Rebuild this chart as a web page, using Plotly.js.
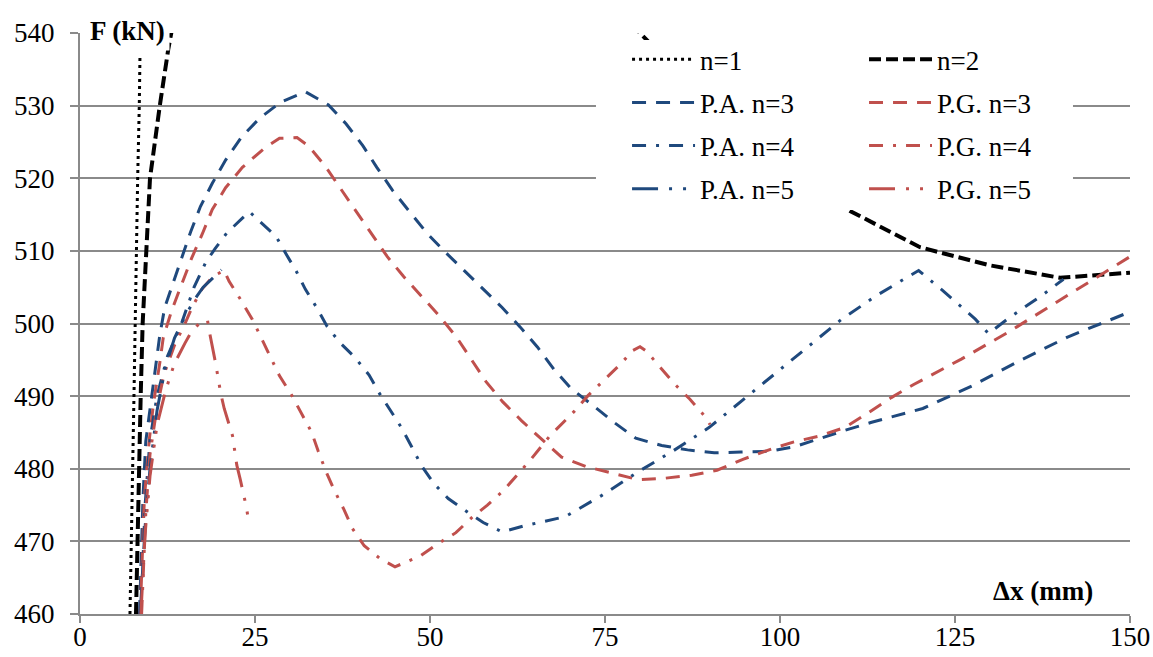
<!DOCTYPE html>
<html>
<head>
<meta charset="utf-8">
<script src="https://cdn.plot.ly/plotly-3.0.1.min.js"></script>
<style>html,body{margin:0;padding:0;background:#fff;}#chart{width:1153px;height:657px;}</style>
</head>
<body>
<div id="chart"></div>
<script>
// ---- data ----
const xTicks = [0, 25, 50, 75, 100, 125, 150];
const yTicks = [460, 470, 480, 490, 500, 510, 520, 530, 540];

const n1_x = [7.14, 7.38, 7.52, 7.71, 7.86, 8.1, 8.24, 8.47, 8.57];
const n1_y = [460, 470, 480, 490, 500, 510, 520, 530, 537];

const n2_x = [8.0, 8.19, 8.43, 8.67, 8.95, 9.5, 10.0, 11.4, 12.6, 14, 17, 25, 40, 55, 70, 80, 90, 100, 110, 120, 130, 140, 150];
const n2_y = [460, 470, 480, 490, 500, 510, 520, 530, 537.7, 545, 553, 564, 572, 566, 552, 540, 530, 521.5, 515.5, 510.5, 508, 506.3, 507];

const pa3_x = [8.5, 9.0, 9.4, 9.9, 10.4, 11.4, 12.1, 13.3, 14.5, 15.8, 17.2, 18.9, 20.8, 23.1, 25.7, 28.7, 32.2, 35.5, 38, 40.4, 42.4, 44.6, 47, 49.6, 52.1, 56, 60.3, 62.9, 65.4, 67.7, 70.2, 73.3, 76.4, 79.4, 83.1, 86.8, 90.6, 94.4, 98.3, 102, 105.7, 109.3, 113.1, 116.7, 120.4, 127.4, 134.1, 141, 150];
const pa3_y = [460, 476, 483.8, 487.6, 491.2, 498.4, 502.2, 505.6, 509.2, 512.6, 516.1, 519.3, 522.5, 525.7, 528.3, 530.5, 531.9, 530.1, 527.5, 524.5, 521.5, 518.4, 515.5, 512.4, 509.9, 506.2, 502.2, 499.5, 496.7, 493.7, 491, 488.7, 486.3, 484.2, 483.2, 482.6, 482.2, 482.3, 482.4, 483, 484.2, 485.3, 486.4, 487.3, 488.3, 491.4, 494.8, 498.1, 501.6];

const pg3_x = [8.6, 9.2, 9.9, 10.5, 11.4, 11.9, 13.1, 14.5, 15.95, 17.5, 18.9, 20.8, 23.2, 26.3, 28.5, 31, 32.7, 35, 37.3, 39.4, 41.7, 43.9, 46.2, 48.8, 51.2, 53.8, 56, 58, 60.4, 63.1, 65.9, 68.8, 72.3, 75.9, 79.7, 83.6, 87.4, 91, 94.7, 99, 102, 105.6, 109.3, 112.6, 115.9, 119.1, 125.9, 132.6, 150];
const pg3_y = [460, 476, 484, 489, 494.6, 498.1, 501.8, 505.4, 509, 512.4, 515.7, 518.7, 521.5, 524.1, 525.5, 525.6, 524.4, 521.7, 518.5, 515.4, 512.3, 509.2, 506.5, 503.8, 501.2, 498.1, 495, 492, 489.2, 486.6, 484.1, 481.6, 480.3, 479.4, 478.5, 478.7, 479.1, 479.8, 481.3, 482.8, 483.7, 484.5, 485.7, 487.7, 489.8, 491.6, 495.1, 498.8, 509.2];

const pa4_x = [8.7, 9.3, 10, 11, 12.5, 14.5, 16.3, 18, 19.3, 21, 23.2, 24.2, 25.5, 28, 29.3, 30.9, 32.2, 33.8, 35.3, 37.1, 39.3, 41.3, 42.7, 44.4, 45.9, 47.4, 48.8, 50.6, 52.6, 55.4, 57.6, 60.3, 63.3, 69.3, 74.5, 79.6, 84.8, 89.9, 94.5, 99.3, 103.8, 108.7, 113.7, 119.8, 123.3, 127.9, 129.8, 132.6, 137.6, 140.5];
const pa4_y = [460, 475, 484, 490, 495.5, 500, 505, 508.5, 510.3, 512.5, 514.5, 515.4, 514.2, 512, 509.8, 507.2, 504.7, 502.2, 499.6, 497.4, 495.3, 492.9, 490.5, 488, 485.7, 483, 480.4, 477.9, 475.9, 474, 472.6, 471.3, 472.1, 473.4, 476.3, 479.5, 482.5, 485.7, 489.3, 493.1, 496.7, 500.5, 503.8, 507.3, 504.5, 500.6, 498.6, 500.7, 504, 506.1];

const pg4_x = [8.8, 9.4, 10, 11, 12, 13.5, 15, 16, 17.4, 19, 20.6, 21.3, 23, 24.6, 25.9, 27.1, 28.5, 30.2, 31.6, 33.1, 34, 35.2, 36.3, 37.7, 38.9, 40.6, 42.9, 45, 48.6, 51, 53.7, 56, 58.2, 60.4, 62.5, 64.5, 67.1, 70.6, 72.6, 74.8, 77, 79, 80, 80.9, 82.9, 84.9, 87.1, 89.3, 90];
const pg4_y = [460, 474, 482, 488.5, 493, 497, 500, 502.2, 504.7, 506.5, 507.3, 505.8, 503.2, 500.6, 498, 495.5, 492.8, 490.2, 487.7, 485, 482.5, 479.5, 477.1, 474.4, 471.8, 469.4, 467.6, 466.5, 468, 469.6, 471.2, 473.3, 475, 476.9, 479.2, 481.4, 484.5, 487.9, 490.1, 492.2, 494.2, 496.3, 496.8, 496.2, 493.9, 491.7, 489.6, 487.2, 486.1];

const pa5_x = [8.6, 9.3, 10, 11, 12.2, 13.5, 15, 16.5, 17.6, 19.4, 20.2];
const pa5_y = [460, 472, 480, 488, 494, 498, 501, 503.5, 505, 506.6, 507.4];

const pg5_x = [8.7, 9.3, 10, 11, 12.3, 13.5, 15, 15.7, 17, 18.2, 18.6, 19.4, 20.1, 20.6, 21.8, 22.4, 22.9, 23.8, 24.1];
const pg5_y = [460, 471, 479, 486, 491, 494.5, 497.3, 498.5, 500, 500.5, 498.3, 494.4, 490.4, 488.3, 484.5, 480.5, 478.5, 474.6, 472.6];

const names = ['n=1', 'n=2', 'P.A. n=3', 'P.G. n=3', 'P.A. n=4', 'P.G. n=4', 'P.A. n=5', 'P.G. n=5'];

// ---- styling ----
const BLUE = '#1F497D', RED = '#C0504D', BLACK = '#000000';
const FONT = 'Liberation Serif, Times New Roman, serif';

function tr(x, y, name, color, width, dash, legend) {
  return {
    x: x, y: y, name: name, type: 'scatter', mode: 'lines',
    line: {color: color, width: width, dash: dash},
    legend: legend, legendgroup: name, hoverinfo: 'skip'
  };
}

const data = [
  tr(n1_x, n1_y, names[0], BLACK, 3, '3px,4px', 'legend'),
  tr(n2_x, n2_y, names[1], BLACK, 4, '12px,5px', 'legend2'),
  tr(pa3_x, pa3_y, names[2], BLUE, 3, '14px,10px', 'legend'),
  tr(pg3_x, pg3_y, names[3], RED, 3, '14px,10px', 'legend2'),
  tr(pa4_x, pa4_y, names[4], BLUE, 3, '14px,10px,3px,10px', 'legend'),
  tr(pg4_x, pg4_y, names[5], RED, 3, '14px,10px,3px,10px', 'legend2'),
  tr(pa5_x, pa5_y, names[6], BLUE, 3, '26px,11px,3px,11px,3px,11px', 'legend'),
  tr(pg5_x, pg5_y, names[7], RED, 3, '26px,11px,3px,11px,3px,11px', 'legend2')
];

const legendCommon = {
  xanchor: 'left', yanchor: 'top', y: 0.996,
  bgcolor: 'rgba(0,0,0,0)', borderwidth: 0,
  font: {family: FONT, size: 27, color: '#000'},
  itemwidth: 63, traceorder: 'grouped', tracegroupgap: 5
};

const layout = {
  width: 1153, height: 657,
  margin: {l: 80, r: 23, t: 33, b: 43, pad: 0},
  paper_bgcolor: '#fff', plot_bgcolor: '#fff',
  font: {family: FONT, size: 27, color: '#000'},
  showlegend: true,
  xaxis: {
    range: [0, 150], tickvals: xTicks, ticktext: xTicks.map(String),
    showgrid: false, zeroline: false,
    showline: true, linecolor: '#8a8a8a', linewidth: 2,
    ticks: 'outside', ticklen: 7, tickwidth: 2, tickcolor: '#8a8a8a',
    ticklabelstandoff: -9,
    tickfont: {family: FONT, size: 27, color: '#000'}
  },
  yaxis: {
    range: [460, 540], tickvals: yTicks, ticktext: yTicks.map(String),
    showgrid: true, gridcolor: '#8a8a8a', gridwidth: 2, zeroline: false,
    showline: true, linecolor: '#8a8a8a', linewidth: 2,
    ticks: 'outside', ticklen: 8, tickwidth: 2, tickcolor: '#8a8a8a',
    ticklabelstandoff: 10,
    tickfont: {family: FONT, size: 27, color: '#000'}
  },
  legend: Object.assign({}, legendCommon, {x: 0.521}),
  legend2: Object.assign({}, legendCommon, {x: 0.7467}),
  shapes: [{
    type: 'rect', xref: 'paper', yref: 'paper', layer: 'above',
    x0: 0.4914, x1: 0.9457, y0: 0.6954, y1: 0.988,
    fillcolor: '#fff', line: {width: 0}
  }],
  annotations: [
    {text: '<b>F (kN)</b>', xref: 'paper', yref: 'paper', x: 0.0048, y: 1.003,
     xanchor: 'left', yanchor: 'middle', showarrow: false, bgcolor: '#fff', borderpad: 4,
     font: {family: FONT, size: 27, color: '#000'}},
    {text: '<b>Δx (mm)</b>', xref: 'paper', yref: 'paper', x: 0.9667, y: 0.0396,
     xanchor: 'right', yanchor: 'middle', showarrow: false,
     font: {family: FONT, size: 27, color: '#000'}}
  ]
};

Plotly.newPlot('chart', data, layout, {staticPlot: true, displayModeBar: false});
</script>
</body>
</html>
